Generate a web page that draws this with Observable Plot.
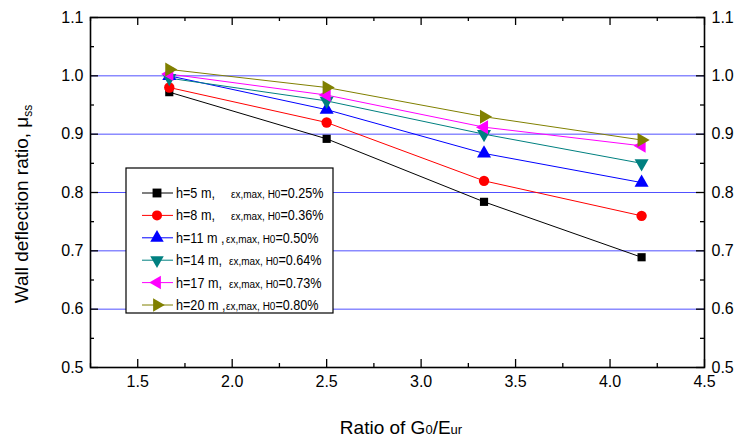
<!DOCTYPE html>
<html>
<head>
<meta charset="utf-8">
<script src="https://cdn.jsdelivr.net/npm/d3@7"></script>
<script src="https://cdn.jsdelivr.net/npm/@observablehq/plot@0.6"></script>
<style>
  html, body { margin: 0; padding: 0; background: #fff; }
  svg { font-family: "Liberation Sans", Arial, sans-serif; }
</style>
</head>
<body>
<div id="chart"></div>
<script>
// ---- data ----
const ratios = [1.667, 2.5, 3.333, 4.167];
const h5  = [0.972, 0.892, 0.784, 0.689];
const h8  = [0.980, 0.920, 0.820, 0.760];
const h11 = [1.000, 0.942, 0.867, 0.817];
const h14 = [0.996, 0.957, 0.900, 0.850];
const h17 = [1.003, 0.967, 0.912, 0.880];
const h20 = [1.011, 0.980, 0.930, 0.890];
const seriesNames = ["h=5 m,", "h=8 m,", "h=11 m ,", "h=14 m,", "h=17 m,", "h=20 m ,"];
const strains = ["0.25%", "0.36%", "0.50%", "0.64%", "0.73%", "0.80%"];
const colors = ["#000000", "#ff0000", "#0000ff", "#008080", "#ff00ff", "#808000"];
const xTicks = [1.5, 2.0, 2.5, 3.0, 3.5, 4.0, 4.5];
const xMinor = [1.25, 1.75, 2.25, 2.75, 3.25, 3.75, 4.25];
const yTicks = [0.5, 0.6, 0.7, 0.8, 0.9, 1.0, 1.1];
const yMinor = [0.55, 0.65, 0.75, 0.85, 0.95, 1.05];
const gridY = [0.6, 0.7, 0.8, 0.9, 1.0];

// ---- symbols ----
function rotated(sym, angle) {
  const c = Math.cos(angle), s = Math.sin(angle);
  return {draw(ctx, size) {
    const w = {
      moveTo: (x, y) => ctx.moveTo(x * c - y * s, x * s + y * c),
      lineTo: (x, y) => ctx.lineTo(x * c - y * s, x * s + y * c),
      closePath: () => ctx.closePath()
    };
    sym.draw(w, size);
  }};
}
const symbols = [
  d3.symbolSquare, d3.symbolCircle, d3.symbolTriangle,
  rotated(d3.symbolTriangle, Math.PI), rotated(d3.symbolTriangle, -Math.PI / 2),
  rotated(d3.symbolTriangle, Math.PI / 2)
];
const allSeries = [h5, h8, h11, h14, h17, h20];
const rows = [];
allSeries.forEach((vals, i) => vals.forEach((v, j) => rows.push({s: i, x: ratios[j], y: v})));

const W = 740, H = 442;
const mL = 90, mR = 36, mT = 17, mB = 75;
const pw = W - mL - mR, ph = H - mT - mB;
const font = "Liberation Sans, Arial, sans-serif";

const marks = [
  Plot.ruleY(gridY, {stroke: "#3333ff", strokeWidth: 1, strokeOpacity: 0.85}),
];
allSeries.forEach((vals, i) => {
  const d = rows.filter(r => r.s === i);
  marks.push(Plot.line(d, {x: "x", y: "y", stroke: colors[i], strokeWidth: 1}));
});
allSeries.forEach((vals, i) => {
  const d = rows.filter(r => r.s === i);
  marks.push(Plot.dot(d, {x: "x", y: "y", fill: colors[i], stroke: "none", r: i === 0 ? 4.6 : 5.2, symbol: () => symbols[i]}));
});
// inward ticks
const tick = 8, mtick = 4;
marks.push(
  Plot.tickY(yTicks, {y: d => d, insetRight: pw - tick, stroke: "#000", strokeWidth: 1.3}),
  Plot.tickY(yTicks, {y: d => d, insetLeft: pw - tick, stroke: "#000", strokeWidth: 1.3}),
  Plot.tickY(yMinor, {y: d => d, insetRight: pw - mtick, stroke: "#000", strokeWidth: 1.3}),
  Plot.tickY(yMinor, {y: d => d, insetLeft: pw - mtick, stroke: "#000", strokeWidth: 1.3}),
  Plot.tickX(xTicks, {x: d => d, insetTop: ph - tick, stroke: "#000", strokeWidth: 1.3}),
  Plot.tickX(xTicks, {x: d => d, insetBottom: ph - tick, stroke: "#000", strokeWidth: 1.3}),
  Plot.tickX(xMinor, {x: d => d, insetTop: ph - mtick, stroke: "#000", strokeWidth: 1.3}),
  Plot.tickX(xMinor, {x: d => d, insetBottom: ph - mtick, stroke: "#000", strokeWidth: 1.3}),
  Plot.frame({stroke: "#000", strokeWidth: 1.6}),
  Plot.axisX(xTicks, {tickSize: 0, tickPadding: 8, tickFormat: d3.format(".1f"), fontSize: 16, label: null}),
  Plot.axisY(yTicks, {anchor: "left", tickSize: 0, tickPadding: 7, tickFormat: d3.format(".1f"), fontSize: 16, label: null}),
  Plot.axisY(yTicks, {anchor: "right", tickSize: 0, tickPadding: 7, tickFormat: d3.format(".1f"), fontSize: 16, label: null})
);

const chart = Plot.plot({
  width: W, height: H,
  marginLeft: mL, marginRight: mR, marginTop: mT, marginBottom: mB,
  style: {fontFamily: font, fontSize: "16px", color: "#000", background: "#fff"},
  x: {domain: [1.25, 4.5]},
  y: {domain: [0.5, 1.1]},
  marks
});
document.getElementById("chart").appendChild(chart);

// ---- titles & legend ----
const svg = d3.select(chart);
const yt = svg.append("text")
  .attr("transform", "translate(28,204) rotate(-90)")
  .attr("text-anchor", "middle").attr("font-size", 19).attr("fill", "#000");
yt.append("tspan").text("Wall deflection ratio, μ");
yt.append("tspan").attr("font-size", 12).attr("dy", 4).text("ss");

const xt = svg.append("text")
  .attr("x", 401).attr("y", 434)
  .attr("text-anchor", "middle").attr("font-size", 19).attr("fill", "#000");
xt.append("tspan").text("Ratio of G");
xt.append("tspan").attr("font-size", 13).text("0");
xt.append("tspan").text("/E");
xt.append("tspan").attr("font-size", 13).text("ur");

const lg = svg.append("g").attr("text-anchor", "start");
lg.append("rect").attr("x", 126).attr("y", 168).attr("width", 207).attr("height", 145)
  .attr("fill", "#fff").attr("stroke", "#000").attr("stroke-width", 1.2);
const epsX = [231, 231, 226, 229, 229, 226];
const sx = 0.87;
seriesNames.forEach((name, i) => {
  const yy = 193 + i * 22.4;
  lg.append("line").attr("x1", 142).attr("x2", 173).attr("y1", yy).attr("y2", yy)
    .attr("stroke", colors[i]).attr("stroke-width", 1);
  const sz = Math.PI * 25;
  lg.append("path").attr("transform", `translate(157,${yy})`)
    .attr("d", d3.symbol(symbols[i], sz)()).attr("fill", colors[i]);
  const g = lg.append("g").attr("transform", `translate(176,${yy + 5}) scale(${sx},1)`);
  g.append("text").attr("x", 0).attr("y", 0).attr("text-anchor", "start")
    .attr("font-size", 14.5).attr("fill", "#000").text(name);
  const t = g.append("text").attr("x", (epsX[i] - 176) / sx).attr("y", 0)
    .attr("text-anchor", "start").attr("fill", "#000");
  t.append("tspan").attr("font-size", 11.5).text("εx,max, H0");
  t.append("tspan").attr("font-size", 14.5).text("=" + strains[i]);
});
</script>
</body>
</html>
